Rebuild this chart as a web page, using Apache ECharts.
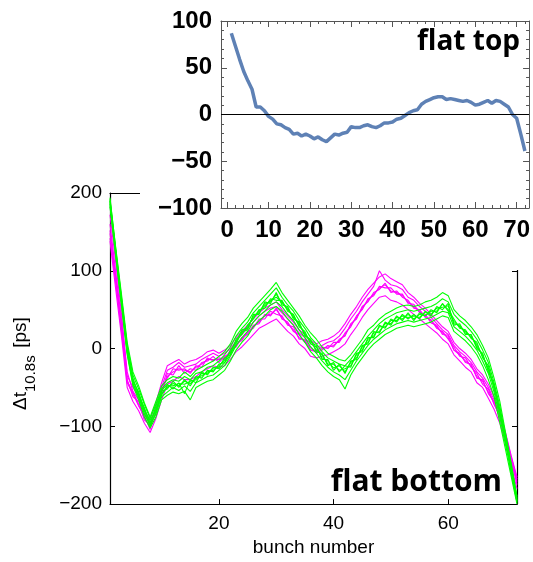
<!DOCTYPE html>
<html><head><meta charset="utf-8">
<script src="https://cdn.jsdelivr.net/npm/echarts@6/dist/echarts.min.js"></script>
<style>
html,body{margin:0;padding:0;background:#fff;overflow:hidden;}
#main{position:absolute;left:0;top:0;width:533px;height:562px;}
#inset{position:absolute;left:140px;top:0;width:393px;height:270px;background:#fff;}
</style></head><body>
<div id="main"></div><div id="inset"></div>
<script>
// ---------- data ----------
const bunches = [1,2,3,4,5,6,7,8,9,10,11,12,13,14,15,16,17,18,19,20,21,22,23,24,25,26,27,28,29,30,31,32,33,34,35,36,37,38,39,40,41,42,43,44,45,46,47,48,49,50,51,52,53,54,55,56,57,58,59,60,61,62,63,64,65,66,67,68,69,70,71,72];

// flat top (inset), bunch 1..72
const flatTop = [87,73,59,46,36,27,8,8,4,-2,-5,-10,-11,-14,-16,-21,-20,-23,-21,-23,-26,-24,-27,-29,-25,-21,-22,-20,-19,-13,-14,-14,-12,-11,-13,-14,-12,-9,-9,-8,-5,-4,-1,2,4,5,11,14,16,18,19,19,16,17,16,15,14,15,13,10,11,13,15,12,15,14,11,8,0,-4,-21,-39];

// flat bottom, magenta shots
const mag1 = [160,98,38,-35,-50,-62,-80,-92,-70,-44,-22,-18,-14,-20,-16,-14,-10,-4,-2,-6,-2,4,14,22,30,38,46,52,56,60,50,42,34,24,18,10,6,10,12,16,22,32,44,54,66,76,84,92,96,90,86,82,72,66,58,52,44,36,28,22,8,0,-6,-14,-26,-34,-46,-62,-80,-108,-138,-165];
const mag2 = [138,76,16,-50,-68,-80,-96,-108,-90,-66,-46,-42,-36,-40,-40,-36,-30,-26,-22,-24,-22,-14,-4,2,10,18,26,30,34,38,30,22,16,6,0,-10,-12,-10,-8,-4,0,6,18,28,40,50,58,66,68,62,60,56,50,44,38,32,26,20,12,6,-8,-16,-24,-30,-44,-50,-64,-78,-96,-122,-152,-180];
const mag3 = [148,88,28,-44,-58,-74,-86,-104,-78,-58,-32,-34,-22,-32,-26,-28,-18,-16,-10,-18,-10,-6,8,10,22,26,38,38,48,44,42,30,28,12,12,-2,-2,2,0,8,8,20,28,42,50,64,68,80,78,78,70,70,58,57,46,44,33,30,18,17,-2,-6,-18,-20,-38,-40,-58,-68,-90,-114,-146,-170];
const mag4 = [142,84,22,-40,-62,-68,-92,-98,-84,-52,-38,-26,-28,-26,-32,-22,-24,-12,-16,-12,-14,-2,2,14,18,30,32,44,42,52,38,34,22,18,8,2,-6,-2,4,2,12,16,32,38,54,60,72,76,84,72,74,66,62,52,50,40,37,26,22,12,2,-10,-12,-24,-32,-46,-52,-72,-86,-116,-144,-175];
const mag5 = [172,110,45,-30,-55,-66,-84,-96,-76,-50,-28,-24,-18,-24,-22,-20,-14,-10,-6,-10,-6,0,10,18,26,34,42,48,52,54,46,38,30,20,14,6,2,4,8,10,16,26,38,48,60,70,80,100,88,82,80,76,66,62,54,48,40,32,24,18,4,-4,-10,-18,-30,-38,-50,-66,-84,-110,-140,-168];
const mag6 = [152,92,30,-42,-56,-72,-90,-100,-82,-56,-36,-30,-26,-28,-30,-24,-20,-14,-14,-14,-12,-4,4,12,20,28,34,42,44,50,40,32,24,14,10,-2,-4,0,2,4,10,18,30,40,52,62,70,78,82,74,72,68,60,54,48,42,36,28,20,14,-2,-8,-16,-22,-36,-42,-56,-70,-88,-116,-145,-172];

// flat bottom, green shots
const grn1 = [192,130,70,8,-30,-48,-70,-88,-68,-48,-40,-36,-38,-30,-36,-28,-24,-20,-16,-10,-4,6,22,32,40,52,60,68,76,85,72,62,52,42,30,20,12,2,-6,-10,-14,-16,-8,2,12,24,30,38,44,48,52,55,56,54,56,60,62,66,72,68,50,42,36,28,18,4,-12,-38,-68,-108,-148,-190];
const grn2 = [184,118,55,-8,-48,-66,-88,-102,-88,-66,-60,-56,-58,-55,-66,-50,-46,-42,-40,-34,-28,-16,-2,8,16,28,36,42,50,54,48,38,30,18,8,-4,-12,-22,-30,-36,-40,-52,-34,-22,-12,-2,6,12,18,22,26,28,30,28,30,32,34,38,42,40,22,16,10,2,-8,-22,-40,-62,-95,-130,-165,-200];
const grn3 = [190,124,60,-2,-38,-60,-76,-98,-74,-55,-52,-42,-50,-40,-48,-36,-38,-28,-30,-20,-18,-2,8,24,26,42,46,58,60,70,58,52,40,32,18,10,-2,-8,-20,-20,-28,-26,-22,-8,-2,12,16,28,28,36,36,42,40,42,40,47,44,52,53,55,32,30,20,17,2,-8,-28,-48,-82,-115,-158,-196];
const grn4 = [186,126,64,2,-42,-56,-80,-92,-80,-60,-48,-48,-45,-46,-42,-40,-32,-32,-25,-24,-12,-8,12,18,30,38,50,52,64,62,62,48,44,28,22,6,2,-12,-16,-25,-22,-30,-18,-12,2,8,20,22,32,32,40,38,44,38,44,42,48,48,57,50,38,26,24,13,8,-12,-22,-52,-78,-120,-152,-194];
const grn5 = [194,128,66,4,-34,-52,-72,-90,-72,-52,-44,-40,-42,-36,-40,-32,-30,-24,-22,-16,-8,2,16,26,34,46,54,62,70,78,66,56,48,36,26,14,6,-4,-12,-16,-20,-22,-14,-4,6,16,24,32,38,42,46,48,50,48,50,52,54,58,64,60,44,36,30,22,12,-2,-18,-44,-74,-112,-150,-192];
const grn6 = [182,120,58,-4,-44,-62,-84,-98,-84,-62,-56,-50,-54,-48,-55,-44,-40,-36,-34,-28,-22,-10,4,14,22,34,42,48,56,60,54,44,36,24,14,2,-6,-16,-24,-30,-34,-40,-28,-16,-6,4,12,18,24,28,32,34,36,34,36,38,40,44,48,46,28,22,16,8,-2,-16,-32,-56,-88,-124,-160,-198];
const grn7 = [188,124,62,0,-40,-58,-78,-95,-78,-58,-50,-45,-48,-42,-45,-38,-35,-30,-28,-22,-15,-5,10,20,28,40,48,55,62,66,60,50,42,30,20,8,4,-14,-14,-28,-20,-32,-16,-14,4,6,22,20,34,30,42,36,46,36,46,42,50,46,58,48,35,28,22,15,5,-10,-25,-50,-80,-118,-155,-195];
const grn8 = [190,122,60,-6,-46,-62,-80,-100,-82,-54,-46,-52,-44,-58,-40,-44,-30,-34,-24,-26,-18,-8,6,22,24,44,44,60,58,72,56,54,38,34,16,12,-4,-6,-22,-18,-30,-22,-24,-6,-4,14,14,30,26,38,34,44,38,44,38,48,42,54,50,58,30,32,18,18,0,-6,-30,-46,-84,-112,-160,-197];

const magentaShots = [mag1, mag2, mag3, mag4, mag5, mag6];
const greenShots = [grn1, grn2, grn3, grn4, grn5, grn6, grn7, grn8];

const mainXTicks = [20, 40, 60];
const insetXTicks = [0, 10, 20, 30, 40, 50, 60, 70];
const insetXMinor = [0,2,4,6,8,10,12,14,16,18,20,22,24,26,28,30,32,34,36,38,40,42,44,46,48,50,52,54,56,58,60,62,64,66,68,70,72];

// ---------- helpers ----------
const minus = v => (v < 0 ? '\u2212' + Math.abs(v) : String(v));
const pairs = arr => bunches.map((b, i) => [b, arr[i]]);

// ---------- main chart (flat bottom) ----------
const mainChart = echarts.init(document.getElementById('main'), null, {renderer: 'canvas'});
const axisCol = '#000';
const lblMain = {color: '#000', fontSize: 19, fontFamily: 'Liberation Sans, Arial, sans-serif'};
const series = [];
magentaShots.forEach(s => series.push({type: 'line', data: pairs(s), showSymbol: false, silent: true,
  lineStyle: {color: '#ff00ff', width: 1.1}, z: 2, xAxisIndex: 0, yAxisIndex: 0}));
greenShots.forEach(s => series.push({type: 'line', data: pairs(s), showSymbol: false, silent: true,
  lineStyle: {color: '#00ff00', width: 1.1}, z: 3, xAxisIndex: 0, yAxisIndex: 0}));

mainChart.setOption({
  animation: false,
  backgroundColor: '#fff',
  grid: {left: 110, top: 193, right: 16, bottom: 55},
  xAxis: [
    {type: 'value', min: 1, max: 72, position: 'bottom',
     axisLine: {show: true, onZero: false, lineStyle: {color: axisCol, width: 1.2}},
     axisTick: {show: true, inside: true, length: 5, customValues: mainXTicks, lineStyle: {color: axisCol}},
     axisLabel: Object.assign({customValues: mainXTicks, margin: 10}, lblMain),
     splitLine: {show: false},
     name: 'bunch number', nameLocation: 'middle', nameGap: 33,
     nameTextStyle: lblMain},
    {type: 'value', min: 1, max: 72, position: 'top',
     axisLine: {show: true, onZero: false, lineStyle: {color: axisCol, width: 1.2}},
     axisTick: {show: false}, axisLabel: {show: false}, splitLine: {show: false}}
  ],
  yAxis: [
    {type: 'value', min: -200, max: 200, interval: 100, position: 'left',
     axisLine: {show: true, onZero: false, lineStyle: {color: axisCol, width: 1.2}},
     axisTick: {show: true, inside: true, length: 5, lineStyle: {color: axisCol}},
     axisLabel: Object.assign({margin: 8, formatter: minus}, lblMain),
     splitLine: {show: false}},
    {type: 'value', min: -200, max: 200, interval: 100, position: 'right',
     axisLine: {show: true, onZero: false, lineStyle: {color: axisCol, width: 1.2}},
     axisTick: {show: true, inside: true, length: 5, lineStyle: {color: axisCol}},
     axisLabel: {show: false}, splitLine: {show: false}}
  ],
  graphic: [
    {type: 'group', x: 30, y: 410, rotation: Math.PI / 2, children: [
      {type: 'text', x: 0, y: 0, style: {text: '\u0394t', font: '19px Liberation Sans, Arial, sans-serif', fill: '#000', verticalAlign: 'bottom', align: 'left'}},
      {type: 'text', x: 18, y: 8, style: {text: '10.8s', font: '15px Liberation Sans, Arial, sans-serif', fill: '#000', verticalAlign: 'bottom', align: 'left'}},
      {type: 'text', x: 57, y: 0, style: {text: ' [ps]', font: '19px Liberation Sans, Arial, sans-serif', fill: '#000', verticalAlign: 'bottom', align: 'left'}}
    ]},
    {type: 'text', x: 502, y: 497, z: 10, style: {text: 'flat bottom', font: 'bold 30px "Open Sans", sans-serif', fill: '#000', align: 'right', verticalAlign: 'bottom'}}
  ],
  series: series
});

// ---------- inset (flat top) ----------
const inset = echarts.init(document.getElementById('inset'), null, {renderer: 'canvas'});
const frameCol = '#555';
const lblInset = {color: '#000', fontSize: 24, fontWeight: 'bold', fontFamily: 'Liberation Sans, Arial, sans-serif'};
const xBase = {type: 'value', min: -1.5, max: 73, splitLine: {show: false}};
inset.setOption({
  animation: false,
  backgroundColor: '#fff',
  grid: {left: 81, top: 21, right: 2, bottom: 62},
  xAxis: [
    Object.assign({}, xBase, {position: 'bottom',
      axisLine: {show: true, onZero: false, lineStyle: {color: frameCol, width: 1}},
      axisTick: {show: true, inside: true, length: 6, customValues: insetXTicks, lineStyle: {color: frameCol}},
      axisLabel: Object.assign({customValues: insetXTicks, margin: 10}, lblInset)}),
    Object.assign({}, xBase, {position: 'bottom',
      axisLine: {show: false, onZero: false},
      axisTick: {show: true, inside: true, length: 3, customValues: insetXMinor, lineStyle: {color: frameCol}},
      axisLabel: {show: false}}),
    Object.assign({}, xBase, {position: 'top',
      axisLine: {show: true, onZero: false, lineStyle: {color: frameCol, width: 1}},
      axisTick: {show: true, inside: true, length: 6, customValues: insetXTicks, lineStyle: {color: frameCol}},
      axisLabel: {show: false}}),
    Object.assign({}, xBase, {position: 'top',
      axisLine: {show: false, onZero: false},
      axisTick: {show: true, inside: true, length: 3, customValues: insetXMinor, lineStyle: {color: frameCol}},
      axisLabel: {show: false}})
  ],
  yAxis: [
    {type: 'value', min: -100, max: 100, interval: 50, position: 'left',
     axisLine: {show: true, onZero: false, lineStyle: {color: frameCol, width: 1}},
     axisTick: {show: true, inside: true, length: 6, lineStyle: {color: frameCol}},
     minorTick: {show: true, splitNumber: 5, length: 3, lineStyle: {color: frameCol}},
     axisLabel: Object.assign({margin: 9, formatter: minus}, lblInset),
     splitLine: {show: false}},
    {type: 'value', min: -100, max: 100, interval: 50, position: 'right',
     axisLine: {show: true, onZero: false, lineStyle: {color: frameCol, width: 1}},
     axisTick: {show: true, inside: true, length: 6, lineStyle: {color: frameCol}},
     minorTick: {show: true, splitNumber: 5, length: 3, lineStyle: {color: frameCol}},
     axisLabel: {show: false}, splitLine: {show: false}}
  ],
  graphic: [
    {type: 'text', x: 380, y: 56, z: 10, style: {text: 'flat top', font: 'bold 28px "Open Sans", sans-serif', fill: '#000', align: 'right', verticalAlign: 'bottom'}}
  ],
  series: [
    {type: 'line', data: pairs(flatTop), showSymbol: false, silent: true, xAxisIndex: 0, yAxisIndex: 0,
     lineStyle: {color: '#5E81B5', width: 3.5}, z: 3,
     markLine: {silent: true, symbol: 'none', label: {show: false}, animation: false,
       lineStyle: {color: '#000', width: 1, type: 'solid'}, data: [{yAxis: 0}]}}
  ]
});
</script>
</body></html>
